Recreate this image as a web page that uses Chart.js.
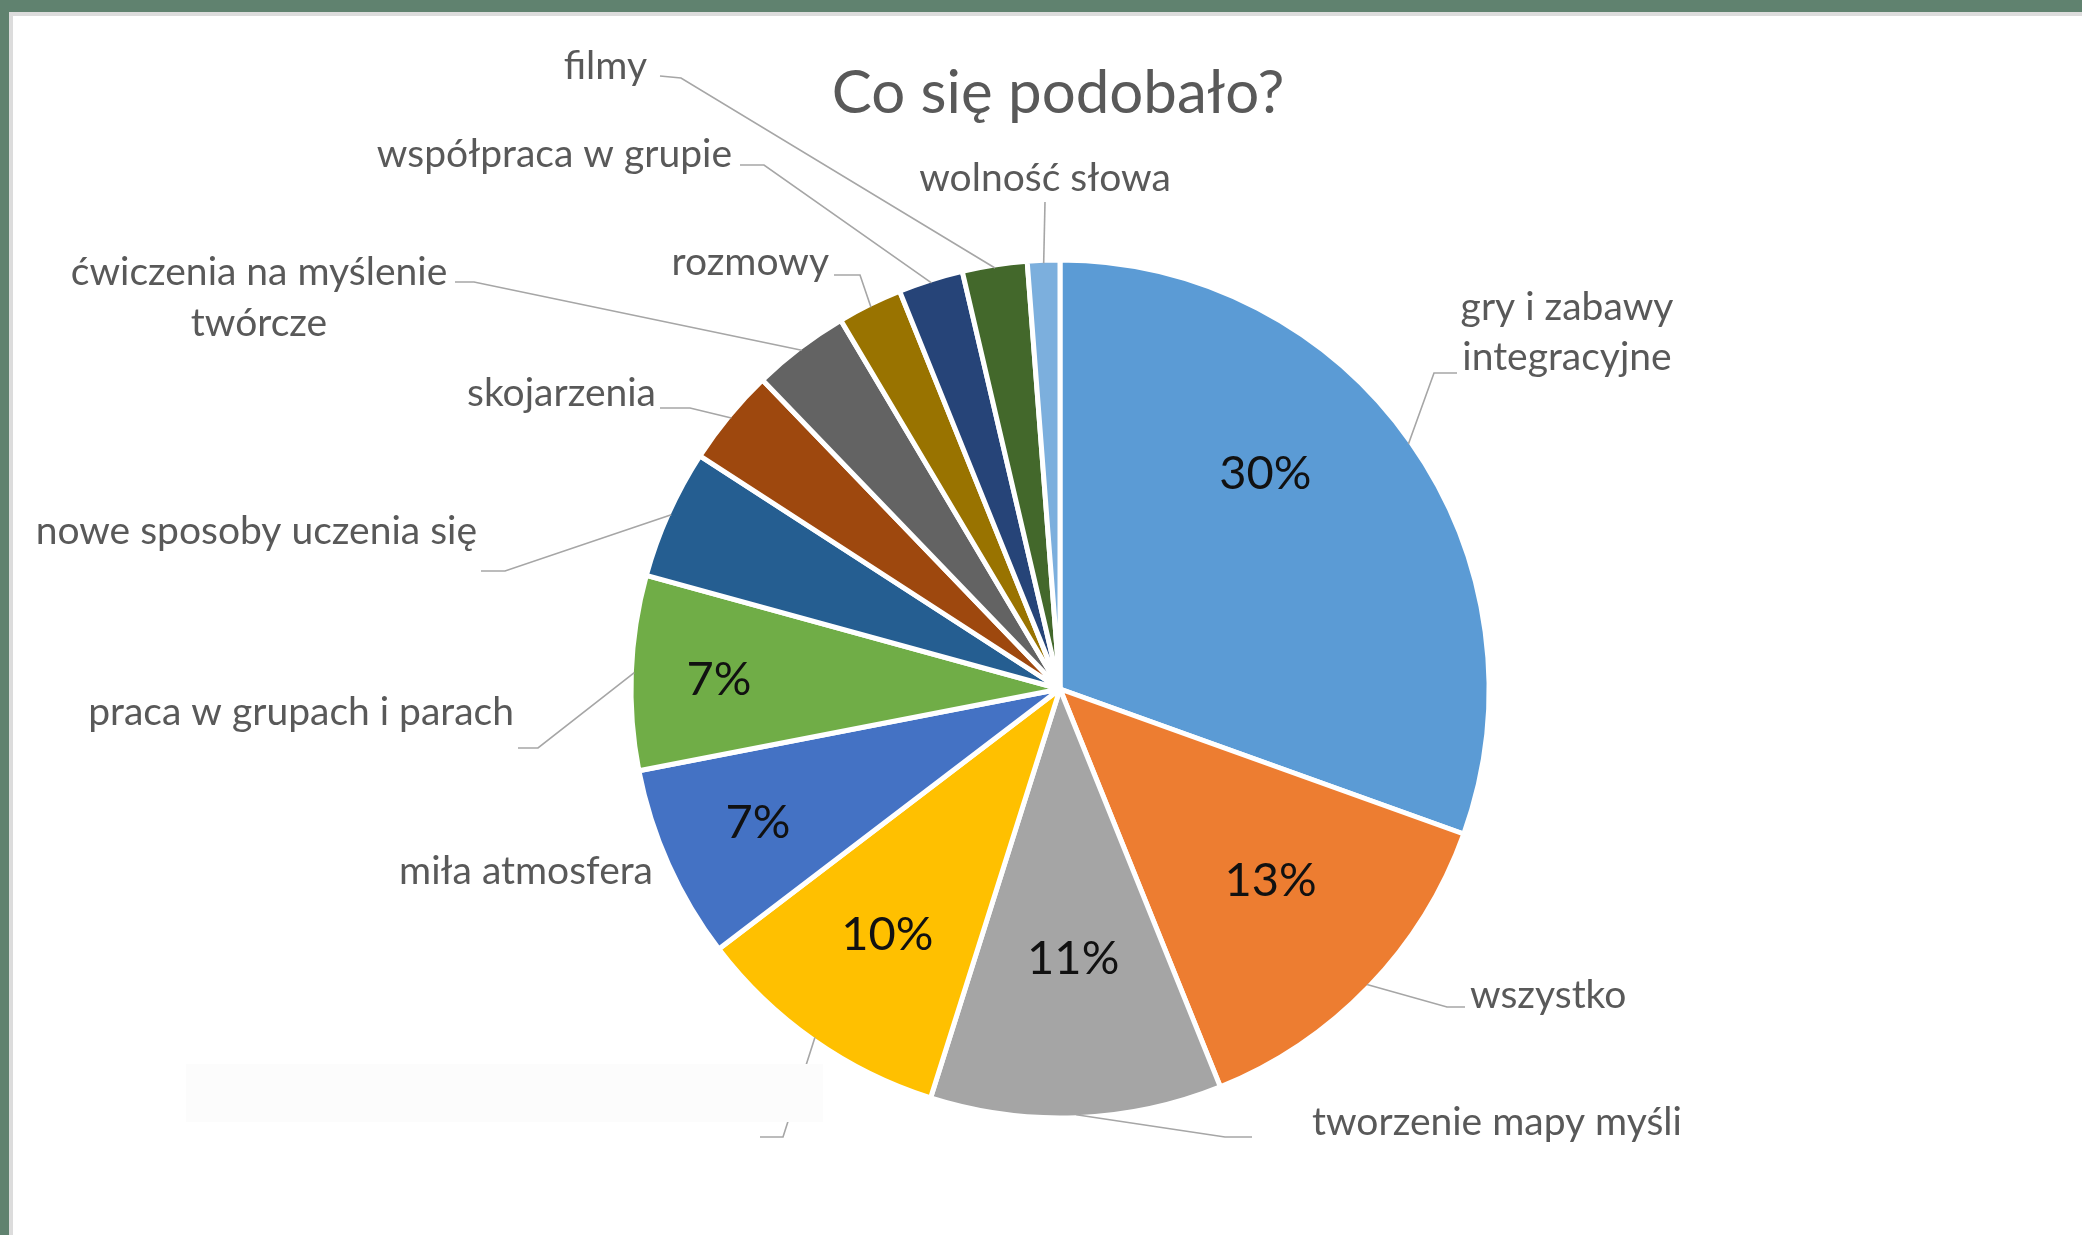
<!DOCTYPE html>
<html><head><meta charset="utf-8">
<script src="https://cdn.jsdelivr.net/npm/chart.js@4.4.0/dist/chart.umd.min.js"></script>
<style>
html,body{margin:0;padding:0;background:#fff;overflow:hidden}
#wrap{position:relative;width:2082px;height:1235px;background:#fff}
#c{position:absolute;left:0;top:0}
.f{position:absolute}
</style></head>
<body>
<div id="wrap">
<canvas id="c" width="2082" height="1235"></canvas>
<div class="f" style="left:0;top:0;width:2082px;height:12px;background:#60826f"></div>
<div class="f" style="left:9px;top:12px;width:2073px;height:4px;background:#dcdcdc"></div>
<div class="f" style="left:0;top:0;width:9px;height:1235px;background:#60826f"></div>
<div class="f" style="left:9px;top:12px;width:4px;height:1223px;background:#dcdcdc"></div>
<div class="f" style="left:186px;top:1064px;width:637px;height:58px;background:#fcfcfc"></div>
</div>
<script>
const chartTitle = 'Co się podobało?';
const categories = ['gry i zabawy integracyjne','wszystko','tworzenie mapy myśli','','miła atmosfera','praca w grupach i parach','nowe sposoby uczenia się','skojarzenia','ćwiczenia na myślenie twórcze','rozmowy','współpraca w grupie','filmy','wolność słowa'];
const values = [25,11,9,8,6,6,4,3,3,2,2,2,1];
const colors = ['#5B9BD5','#ED7D31','#A5A5A5','#FFC000','#4472C4','#70AD47','#255E91','#9E480E','#636363','#997300','#264478','#43682B','#7CAFDD'];

// label layout: text lines, anchor, alignment, leader start and elbow;
// inner percent label placed at angle pa (deg clockwise from top) and radius factor pr
const labelLayout = [
  {lines:['gry i zabawy','integracyjne'], x:1567, y:307, lh:50, align:'center', ls:[1457,373], el:[1434,373], pa:43.6, pr:0.694},
  {lines:['wszystko'], x:1470, y:995, align:'left', ls:[1465,1007], el:[1447,1007], pa:132.3, pr:0.664},
  {lines:['tworzenie mapy myśli'], x:1312, y:1122, align:'left', ls:[1252,1137], el:[1225,1137], pa:177.2, pr:0.63},
  {lines:[], x:0, y:0, align:'left', ls:[760,1137], el:[783,1137], pa:215.1, pr:0.70},
  {lines:['miła atmosfera'], x:653, y:871, align:'right', ls:null, el:null, pa:246.1, pr:0.77},
  {lines:['praca w grupach i parach'], x:514, y:712, align:'right', ls:[518,748], el:[538,748], pa:271.6, pr:0.795},
  {lines:['nowe sposoby uczenia się'], x:477, y:531, align:'right', ls:[481,571], el:[505,571], pr:null},
  {lines:['skojarzenia'], x:656, y:393, align:'right', ls:[660,408], el:[690,408], pr:null},
  {lines:['ćwiczenia na myślenie','twórcze'], x:259, y:272, lh:51, align:'center', ls:[455,282], el:[474,282], pr:null},
  {lines:['rozmowy'], x:829, y:262, align:'right', ls:[834,275], el:[860,275], pr:null},
  {lines:['współpraca w grupie'], x:732, y:154, align:'right', ls:[740,165], el:[764,165], pr:null},
  {lines:['filmy'], x:647, y:66, align:'right', ls:[660,76], el:[681,78], pr:null},
  {lines:['wolność słowa'], x:1045, y:178, align:'center', ls:[1045,202], el:[1045,202], pr:null}
];

const FONT = 'Lato, "Open Sans", sans-serif';
const total = values.reduce((a,b)=>a+b,0);

const labelPlugin = {
  id:'labels',
  afterDatasetsDraw(chart){
    const ctx = chart.ctx;
    const meta = chart.getDatasetMeta(0);
    ctx.save();
    ctx.fillStyle = '#595959';
    ctx.font = '60px ' + FONT;
    ctx.textAlign = 'center';
    ctx.textBaseline = 'middle';
    ctx.fillText(chartTitle, 1058, 94);
    meta.data.forEach((arc,i)=>{
      const p = arc.getProps(['x','y','startAngle','endAngle','outerRadius'], true);
      const mid = (p.startAngle + p.endAngle)/2;
      const L = labelLayout[i];
      if (L.ls){
        const ex = p.x + Math.cos(mid)*(p.outerRadius-3);
        const ey = p.y + Math.sin(mid)*(p.outerRadius-3);
        ctx.strokeStyle = '#a6a6a6';
        ctx.lineWidth = 1.6;
        ctx.beginPath();
        ctx.moveTo(L.ls[0], L.ls[1]);
        ctx.lineTo(L.el[0], L.el[1]);
        ctx.lineTo(ex, ey);
        ctx.stroke();
      }
      ctx.fillStyle = '#595959';
      ctx.font = '39px ' + FONT;
      ctx.textAlign = L.align;
      ctx.textBaseline = 'middle';
      L.lines.forEach((t,k)=>ctx.fillText(t, L.x, L.y + k*(L.lh||0)));
      if (L.pr){
        const a = (L.pa - 90) * Math.PI/180;
        const r = p.outerRadius * L.pr;
        ctx.fillStyle = '#111';
        ctx.font = '47px ' + FONT;
        ctx.textAlign = 'center';
        ctx.fillText(Math.round(values[i]/total*100)+'%', p.x + Math.cos(a)*r, p.y + Math.sin(a)*r);
      }
    });
    ctx.restore();
  }
};

new Chart(document.getElementById('c'), {
  type:'pie',
  data:{labels:categories, datasets:[{data:values, backgroundColor:colors, borderColor:'#ffffff', borderWidth:5, radius:429}]},
  options:{
    responsive:false, animation:false,
    layout:{padding:{left:238,right:200,top:243,bottom:100}},
    plugins:{legend:{display:false}, tooltip:{enabled:false}, title:{display:false}}
  },
  plugins:[labelPlugin]
});
</script>
</body></html>
